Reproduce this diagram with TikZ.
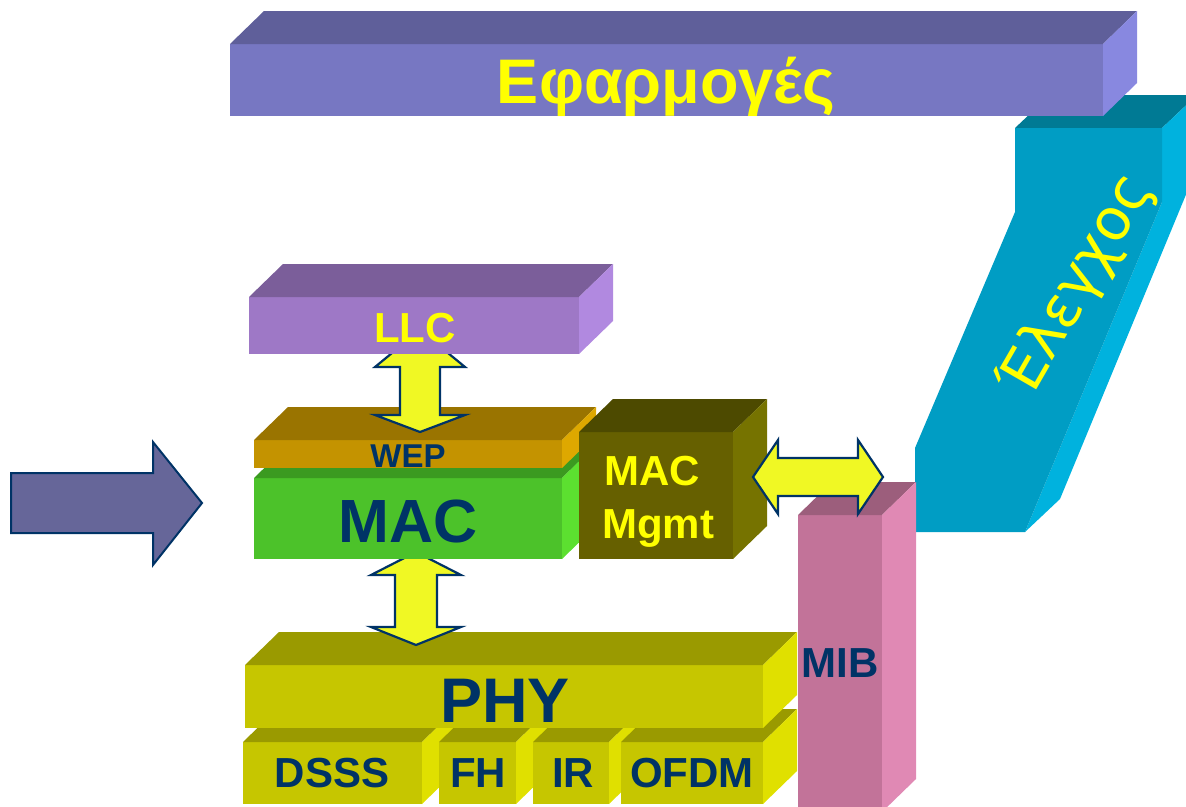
\documentclass[tikz,border=0pt]{standalone}
\usepackage{fontspec}
\setmainfont{Liberation Sans}
\newfontfamily\elgfont{DejaVu Sans}
\definecolor{ylw}{HTML}{FFFF00}
\definecolor{navy}{HTML}{003366}
\definecolor{arrowfill}{HTML}{F0F824}
\definecolor{leftarrow}{HTML}{666699}
\definecolor{ephF}{HTML}{7777C2}\definecolor{ephT}{HTML}{5F5F9A}\definecolor{ephR}{HTML}{8888E0}
\definecolor{elgF}{HTML}{009DC4}\definecolor{elgT}{HTML}{007A94}\definecolor{elgR}{HTML}{00B2DE}
\definecolor{llcF}{HTML}{9E78C6}\definecolor{llcT}{HTML}{7B5E9A}\definecolor{llcR}{HTML}{B189E0}
\definecolor{wepF}{HTML}{C49300}\definecolor{wepT}{HTML}{9A7400}\definecolor{wepR}{HTML}{DEA800}
\definecolor{macF}{HTML}{4CC22A}\definecolor{macT}{HTML}{3B9A20}\definecolor{macR}{HTML}{5CE030}
\definecolor{mgtF}{HTML}{666000}\definecolor{mgtT}{HTML}{4D4A00}\definecolor{mgtR}{HTML}{767300}
\definecolor{phyF}{HTML}{C6C600}\definecolor{phyT}{HTML}{9A9A00}\definecolor{phyR}{HTML}{E0E000}
\definecolor{mibF}{HTML}{C27399}\definecolor{mibT}{HTML}{9C5E7C}\definecolor{mibR}{HTML}{E089B4}
% cuboid: x1,y1,x2,y2 (front face, y downwards), front, top, right colours
\newcommand\cuboidbox[7]{%
  \fill[#5] (#1,#2) rectangle (#3,#4);
  \fill[#6] (#1,#2) -- (#1+34,#2-33) -- (#3+34,#2-33) -- (#3,#2) -- cycle;
  \fill[#7] (#3,#2) -- (#3+34,#2-33) -- (#3+34,#4-33) -- (#3,#4) -- cycle;
}
\tikzset{
  ytxt/.style={anchor=base,inner sep=0pt,text=ylw,font=\bfseries\fontsize{#1}{#1}\selectfont},
  ntxt/.style={anchor=base,inner sep=0pt,text=navy,font=\bfseries\fontsize{#1}{#1}\selectfont},
  blockarrow/.style={fill=arrowfill,draw=navy,line width=2.2pt,line join=miter},
  bigarrow/.style={fill=leftarrow,draw=navy,line width=2pt,line join=miter},
}
\begin{document}
\begin{tikzpicture}[x=1pt,y=-1pt]
\useasboundingbox (0,0) rectangle (1186,806);
% Elegxos slanted block
\fill[elgT] (1015,128) -- (1050,95) -- (1197,95) -- (1162,128) -- cycle;
\fill[elgR] (1162,128) -- (1197,95) -- (1197,168) -- (1060,499) -- (1025,532) -- (1162,202) -- cycle;
\fill[elgF] (1015,128) -- (1162,128) -- (1162,202) -- (1025,532) -- (915,532) -- (915,448) -- (1015,212) -- cycle;
\node[rotate=60,inner sep=0pt,text=ylw,font=\elgfont\fontsize{58}{58}\selectfont] (elegxos) at (1077,285) {Έλεγχος};
% Applications
\cuboidbox{230}{44}{1103}{116}{ephF}{ephT}{ephR}
\node[ytxt=63] (efarm) at (666,103) {Εφαρμογές};
% PHY sub-layers
\cuboidbox{243}{742}{422}{804}{phyF}{phyT}{phyR}
\node[ntxt=42] (dsss) at (332,787) {DSSS};
\cuboidbox{439}{742}{516}{804}{phyF}{phyT}{phyR}
\node[ntxt=42] (fh) at (478,787) {FH};
\cuboidbox{533}{742}{609}{804}{phyF}{phyT}{phyR}
\node[ntxt=42] (ir) at (573,787) {IR};
\cuboidbox{621}{742}{763}{804}{phyF}{phyT}{phyR}
\node[ntxt=42] (ofdm) at (692,787) {OFDM};
% PHY
\cuboidbox{245}{665}{763}{728}{phyF}{phyT}{phyR}
\node[ntxt=63] (phy) at (505,722) {PHY};
% MIB
\cuboidbox{798}{515}{882}{812}{mibF}{mibT}{mibR}
\node[ntxt=42] (mib) at (840,677) {MIB};
% MAC <-> PHY arrow
\draw[blockarrow] (416,552) -- (461,575) -- (437,575) -- (437,627) -- (461,627) -- (416,645)
  -- (371,627) -- (395,627) -- (395,575) -- (371,575) -- cycle;
% MAC and WEP
\cuboidbox{254}{478}{562}{559}{macF}{macT}{macR}
\node[ntxt=61] (mac) at (408,542) {MAC};
\cuboidbox{254}{440}{562}{468}{wepF}{wepT}{wepR}
\node[ntxt=33] (wep) at (408,467) {WEP};
% LLC <-> WEP arrow
\draw[blockarrow] (420,330) -- (465,367) -- (440,367) -- (440,415) -- (465,415) -- (420,432)
  -- (375,415) -- (400,415) -- (400,367) -- (375,367) -- cycle;
% LLC
\cuboidbox{249}{297}{579}{354}{llcF}{llcT}{llcR}
\node[ytxt=42] (llc) at (415,342) {LLC};
% MAC Mgmt
\cuboidbox{579}{432}{733}{559}{mgtF}{mgtT}{mgtR}
\node[ytxt=42,anchor=base west] (mgmt1) at (604,485) {MAC};
\node[ytxt=42,anchor=base west] (mgmt2) at (602,538) {Mgmt};
% Mgmt <-> MIB arrow
\draw[blockarrow] (753,477) -- (778,440) -- (778,458) -- (858,458) -- (858,440) -- (883,477)
  -- (858,514) -- (858,496) -- (778,496) -- (778,514) -- cycle;
% input arrow on the left
\draw[bigarrow] (11,473) -- (153,473) -- (153,442) -- (202,503) -- (153,565) -- (153,533) -- (11,533) -- cycle;
\end{tikzpicture}
\end{document}
